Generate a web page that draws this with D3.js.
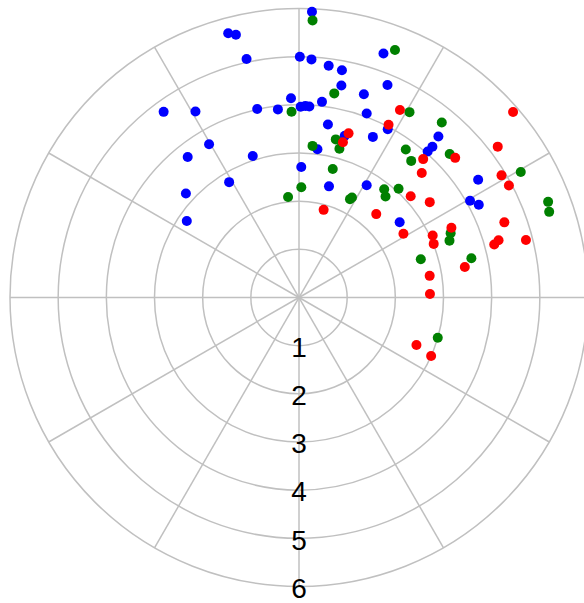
<!DOCTYPE html>
<html>
<head>
<meta charset="utf-8">
<script src="https://cdn.jsdelivr.net/npm/d3@7"></script>
<style>
  html, body { margin: 0; padding: 0; background: #fff; }
  svg { display: block; }
</style>
</head>
<body>
<svg id="chart" width="584" height="603"></svg>
<script>
// Radial ticks (ring labels)
const radialTicks = [1, 2, 3, 4, 5, 6];
// Spoke angles (degrees)
const spokeAngles = [0, 30, 60, 90, 120, 150, 180, 210, 240, 270, 300, 330];

// Series: radius values and angles (degrees, counter-clockwise from east)
const blueR = [5.94, 5.68, 5.61, 5.07, 5.00, 4.95, 4.85, 4.80, 5.36, 4.78, 4.49, 4.43, 4.14, 4.09, 3.96, 3.98, 3.97, 3.93, 4.01, 4.42, 4.77, 4.07, 3.95, 3.67, 3.64, 3.49, 4.42, 4.18, 4.04, 3.69, 3.10, 3.72, 3.09, 2.80, 3.19, 2.82, 2.71, 2.39, 2.72, 2.61, 4.45, 4.08, 4.20];
const blueTheta = [87.4, 105.0, 103.5, 102.4, 89.8, 87.0, 82.7, 79.3, 70.9, 67.4, 78.7, 72.3, 92.3, 83.3, 89.5, 88.1, 86.9, 96.4, 102.5, 119.1, 126.1, 69.8, 62.2, 65.3, 80.5, 74.2, 49.1, 48.5, 48.6, 120.4, 82.9, 128.4, 108.1, 121.2, 137.4, 145.7, 89.0, 74.9, 58.9, 36.8, 33.3, 29.5, 27.3];

const greenR = [5.76, 5.51, 4.30, 3.86, 4.48, 4.69, 3.37, 3.20, 3.16, 3.79, 3.67, 4.32, 5.29, 5.54, 5.49, 2.76, 2.29, 2.10, 2.30, 2.35, 2.86, 2.76, 3.06, 3.42, 3.34, 2.65, 3.67, 3.00];
const greenTheta = [87.2, 68.8, 80.2, 92.3, 59.2, 50.8, 76.9, 74.8, 84.9, 54.2, 50.6, 43.6, 29.5, 21.0, 18.9, 75.3, 88.8, 96.2, 62.6, 62.1, 51.8, 49.4, 47.5, 23.0, 20.7, 17.4, 12.8, -16.2];

const redR = [4.42, 5.88, 4.04, 3.56, 3.35, 3.86, 4.35, 5.18, 3.63, 4.91, 4.94, 3.13, 3.36, 1.89, 2.36, 4.54, 2.54, 3.06, 3.01, 3.48, 4.86, 4.31, 4.20, 3.50, 2.75, 2.72, 2.63, 3.00];
const redTheta = [61.7, 40.9, 62.6, 73.2, 74.2, 48.1, 41.8, 37.2, 45.4, 31.1, 28.1, 42.2, 36.1, 74.3, 47.2, 20.1, 31.4, 24.9, 21.7, 24.6, 14.2, 16.0, 15.2, 10.4, 9.4, 1.5, -22.0, -23.9];

const seriesNames = ["blue", "green", "red"];
const seriesColors = ["#0000ff", "#008000", "#ff0000"];

const svg = d3.select("#chart");
const cx = 299, cy = 297.5, outer = 289;

const r = d3.scaleLinear().domain([0, 6]).range([0, outer]);
const toRad = d3.scaleLinear().domain([0, 360]).range([0, 2 * Math.PI]);

const g = svg.append("g").attr("transform", `translate(${cx},${cy})`);

// rings
g.append("g").selectAll("circle")
  .data(radialTicks)
  .join("circle")
  .attr("r", d => r(d))
  .attr("fill", "none")
  .attr("stroke", "#c0c0c0")
  .attr("stroke-width", 1.5);

// spokes
g.append("g").selectAll("line")
  .data(spokeAngles)
  .join("line")
  .attr("x1", 0).attr("y1", 0)
  .attr("x2", d => r(6) * Math.cos(toRad(d)))
  .attr("y2", d => -r(6) * Math.sin(toRad(d)))
  .attr("stroke", "#c0c0c0")
  .attr("stroke-width", 1.5);

// ring labels
g.append("g").selectAll("text")
  .data(radialTicks)
  .join("text")
  .attr("x", 0)
  .attr("y", d => r(d))
  .attr("dy", "0.4em")
  .attr("text-anchor", "middle")
  .attr("font-family", "Liberation Sans, Arial, sans-serif")
  .attr("font-size", 28)
  .attr("fill", "#000")
  .text(d => d);

// points
const series = [
  { name: seriesNames[0], color: seriesColors[0], rr: blueR, th: blueTheta },
  { name: seriesNames[1], color: seriesColors[1], rr: greenR, th: greenTheta },
  { name: seriesNames[2], color: seriesColors[2], rr: redR, th: redTheta }
];

series.forEach(s => {
  const pts = s.rr.map((v, i) => ({ r: v, t: s.th[i] }));
  g.append("g").attr("class", "series-" + s.name)
    .selectAll("circle")
    .data(pts)
    .join("circle")
    .attr("cx", d => r(d.r) * Math.cos(toRad(d.t)))
    .attr("cy", d => -r(d.r) * Math.sin(toRad(d.t)))
    .attr("r", 5)
    .attr("fill", s.color);
});
</script>
</body>
</html>
